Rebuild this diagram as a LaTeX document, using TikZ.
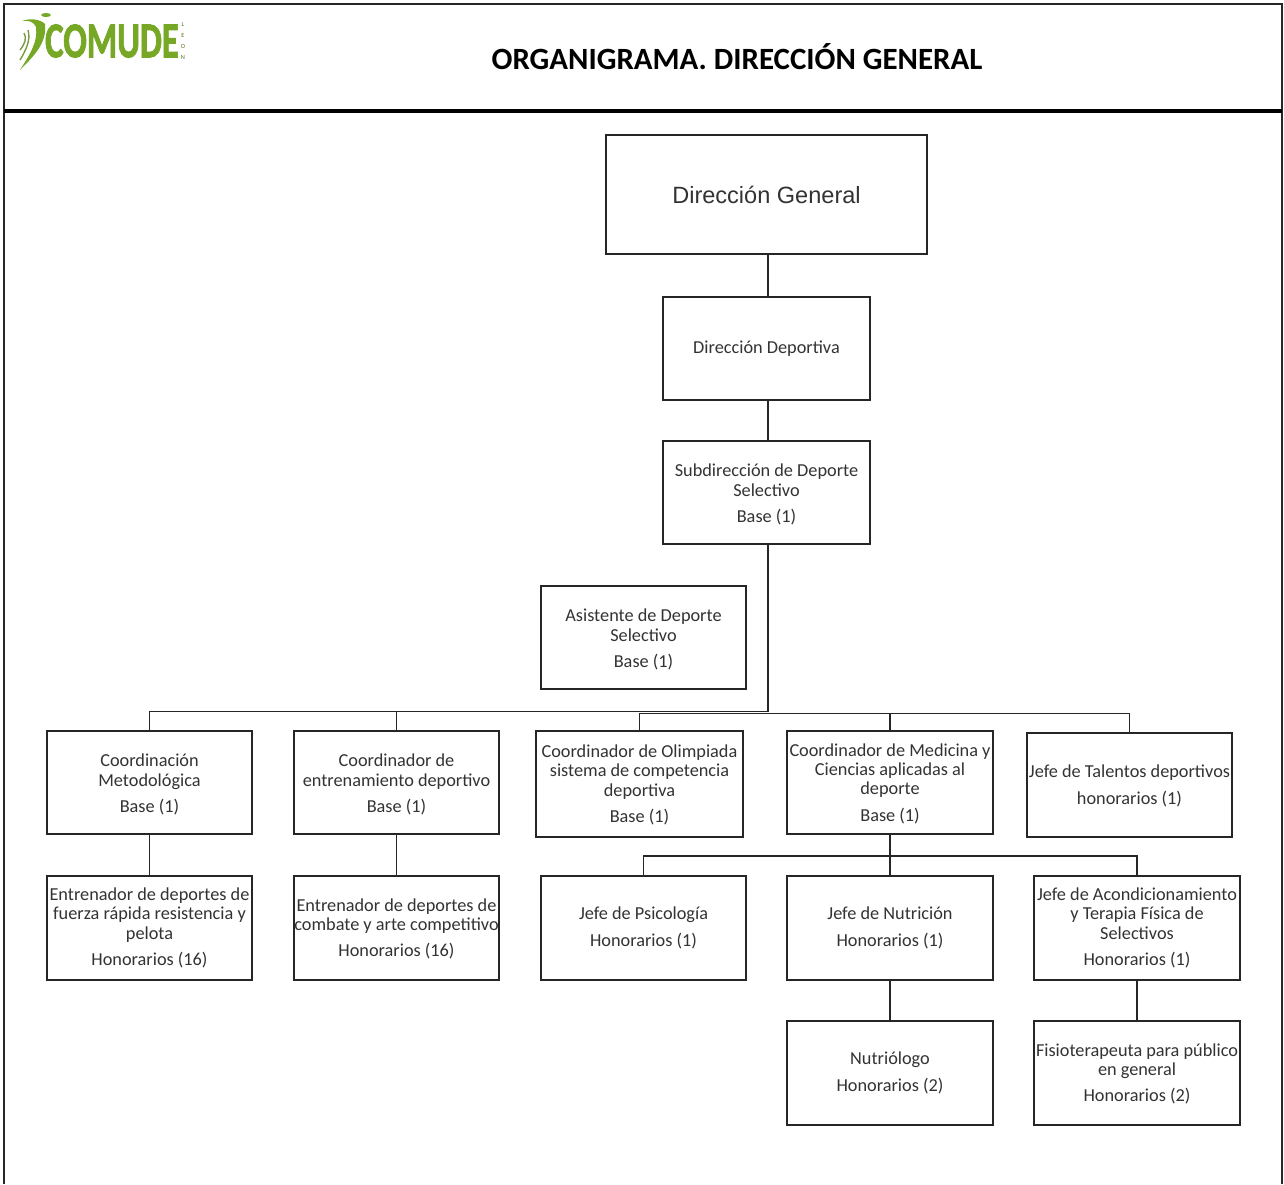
\documentclass[tikz,border=0pt]{standalone}
\usepackage{fontspec}
\setmainfont{Carlito}
\newfontfamily\arialfont{Liberation Sans}
\definecolor{logogreen}{RGB}{118,168,38}
\newcommand{\px}{0.02cm}
\tikzset{x=\px,y=-\px,
 box/.style={draw=black!85,line width=1.2pt,fill=white,inner sep=0pt},
 frame/.style={draw=black!85,line width=1.2pt},
 link/.style={draw=black!85,line width=1pt},
 lab/.style={align=center,inner sep=0pt,font=\fontsize{10.4}{11}\selectfont,text=black!80}}
\newcommand{\bx}[7][0]{% shift name x1 y1 x2 y2 text
 \draw[box] (#3,#4) rectangle (#5,#6);
 \node[lab] (#2) at ({(#3+#5)/2},{(#4+#6)/2+#1}) {#7};
 \coordinate (#2t) at ({(#3+#5)/2},#4);
 \coordinate (#2b) at ({(#3+#5)/2},#6);}
\begin{document}
\begin{tikzpicture}
\useasboundingbox (0,0) rectangle (1284,1184);
\fill[white] (0,0) rectangle (1284,1184);
\draw[frame] (4,1184) -- (4,4) -- (1282,4) -- (1282,1184);
\draw[black,line width=2.6pt] (4,111) -- (1282,111);
\node[font=\bfseries\fontsize{17.6}{20}\selectfont] (title) at (737,57) {ORGANIGRAMA. DIRECCIÓN GENERAL};
\node[font=\bfseries\fontsize{22}{24}\selectfont\addfontfeature{FakeBold=2},text=logogreen,xscale=0.9,yscale=1.3] (logo) at (112,41) {COMUDE};
\node[font=\fontsize{3.6}{6.2}\selectfont,text=logogreen!70!black,align=center,inner sep=0pt] (leon) at (183,41) {L\\E\\O\\N};
\fill[logogreen] (20,70) .. controls (36,54) and (47,42) .. (45,24) .. controls (40,19) and (30,18) .. (22,21) .. controls (29,20) and (34,22) .. (36,27) .. controls (38,42) and (30,54) .. (20,70);
\fill[logogreen] (46,15) circle[x radius=5,y radius=2];
\draw[logogreen!70!gray,line width=.8pt] (20,60) .. controls (26,50) and (31,40) .. (28,30) (20,50) .. controls (25,44) and (27,38) .. (24,33);
\bx{dg}{606}{135}{927}{254}{\arialfont\fontsize{13.4}{16}\selectfont Dirección General}
\bx{dd}{663}{297}{870}{400}{Dirección Deportiva}
\bx[2]{sd}{663}{441}{870}{544}{Subdirección de Deporte\\Selectivo\\[4pt]Base (1)}
\bx[2]{as}{541}{586}{746}{689}{Asistente de Deporte\\Selectivo\\[4pt]Base (1)}
\bx[2]{c1}{47}{731}{252}{834}{Coordinación\\Metodológica\\[4pt]Base (1)}
\bx[2]{c2}{294}{731}{499}{834}{Coordinador de\\entrenamiento deportivo\\[4pt]Base (1)}
\bx[1]{c3}{536}{731}{743}{837}{Coordinador de Olimpiada\\sistema de competencia\\deportiva\\[4pt]Base (1)}
\bx[1]{c4}{787}{731}{993}{834}{Coordinador de Medicina y\\Ciencias aplicadas al\\deporte\\[4pt]Base (1)}
\bx[1]{c5}{1027}{733}{1232}{837}{Jefe de Talentos deportivos\\[4.3pt]honorarios (1)}
\bx{e1}{47}{876}{252}{980}{Entrenador de deportes de\\fuerza rápida resistencia y\\pelota\\[4pt]Honorarios (16)}
\bx[1]{e2}{294}{876}{499}{980}{Entrenador de deportes de\\combate y arte competitivo\\[4pt]Honorarios (16)}
\bx{j1}{541}{876}{746}{980}{Jefe de Psicología\\[4.3pt]Honorarios (1)}
\bx{j2}{787}{876}{993}{980}{Jefe de Nutrición\\[4.3pt]Honorarios (1)}
\bx{j3}{1034}{876}{1240}{980}{Jefe de Acondicionamiento\\y Terapia Física de\\Selectivos\\[4pt]Honorarios (1)}
\bx{n1}{787}{1021}{993}{1125}{Nutriólogo\\[4.3pt]Honorarios (2)}
\bx[1]{f1}{1034}{1021}{1240}{1125}{Fisioterapeuta para público\\en general\\[4pt]Honorarios (2)}
\coordinate (busa) at (768,711.5);
\coordinate (busb) at (768,713.5);
\draw[link] (768,254) -- (768,297);
\draw[link] (768,400) -- (768,441);
\draw[link] (768,544) -- (busa);
\draw[link] (c1t) -- (c1t |- busa) -- (busa);
\draw[link] (c2t) -- (c2t |- busa);
\draw[link] (c3t) -- (c3t |- busb) -- (c4t |- busb);
\draw[link] (c4t) -- (c4t |- busb) -- (c5t |- busb) -- (c5t);
\coordinate (busc) at (890,856);
\draw[link] (c1b) -- (e1t);
\draw[link] (c2b) -- (e2t);
\draw[link] (c4b) -- (j2t);
\draw[link] (j1t) -- (j1t |- busc) -- (j3t |- busc) -- (j3t);
\draw[link] (j2b) -- (n1t);
\draw[link] (j3b) -- (f1t);
\end{tikzpicture}
\end{document}
